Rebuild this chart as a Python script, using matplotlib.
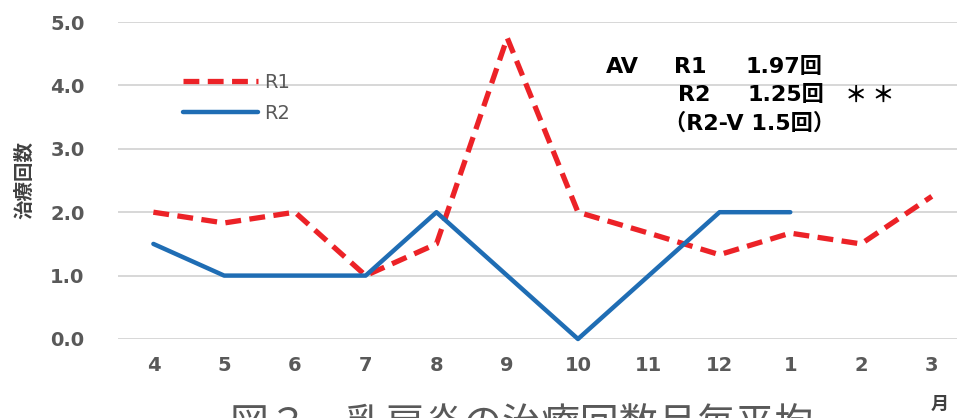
import matplotlib
matplotlib.use("Agg")
import matplotlib.pyplot as plt

plt.rcParams['font.family'] = ['DejaVu Sans', 'Noto Sans CJK JP']

months = ['4', '5', '6', '7', '8', '9', '10', '11', '12', '1', '2', '3']
r1 = [2.0, 1.83, 2.0, 1.0, 1.5, 4.75, 2.0, 1.67, 1.33, 1.67, 1.5, 2.25]
r2 = [1.5, 1.0, 1.0, 1.0, 2.0, 1.0, 0.0, 1.0, 2.0, 2.0]
yticks = [0, 1, 2, 3, 4, 5]

RED = '#ec2227'
BLUE = '#1f6db4'
GREY = '#595959'

fig = plt.figure(figsize=(9.57, 4.18), dpi=100)
ax = fig.add_axes([118 / 957, 79 / 418, 839 / 957, 317 / 418])

x1 = list(range(len(r1)))
x2 = list(range(len(r2)))
ax.plot(x1, r1, color=RED, lw=3.8, linestyle=(0, (3, 1.6)), label='R1',
        clip_on=False, zorder=3)
ax.plot(x2, r2, color=BLUE, lw=3.2, label='R2', clip_on=False, zorder=3,
        solid_capstyle='round')

ax.set_xlim(-0.5, (957 - 153) / 70.8)
ax.set_ylim(0, 5)
ax.set_xticks(x1)
ax.set_xticklabels(months)
ax.set_yticks(yticks)
ax.set_yticklabels([f'{v:.1f}' for v in yticks])
ax.tick_params(length=0, colors=GREY, labelsize=14)
ax.tick_params(axis='x', pad=12)
ax.tick_params(axis='y', pad=24)
for lab in ax.get_xticklabels() + ax.get_yticklabels():
    lab.set_fontweight('bold')
ax.grid(axis='y', color='#d4d4d4', lw=1.3)
ax.set_axisbelow(True)
for s in ax.spines.values():
    s.set_visible(False)

leg = ax.legend(loc='upper left', bbox_to_anchor=(165 / 957, 1 - 55 / 418),
                bbox_transform=fig.transFigure, frameon=False, fontsize=14,
                handlelength=3.9, handletextpad=0.3, labelspacing=0.65,
                labelcolor=GREY)

fig.text(25 / 957, 1 - 180 / 418, '治療回数', rotation=90, ha='center', va='center',
         fontsize=14, color='#404040', fontweight='bold',
         family=['Noto Sans CJK JP'])

note = dict(fontsize=16, fontweight='bold', color='black', ha='left',
            va='center', family=['DejaVu Sans', 'Noto Sans CJK JP'])
fig.text(606 / 957, 1 - 67 / 418, 'AV', **note)
fig.text(674 / 957, 1 - 67 / 418, 'R1', **note)
fig.text(745 / 957, 1 - 67 / 418, '1.97回', **note)
fig.text(678 / 957, 1 - 95 / 418, 'R2', **note)
fig.text(748 / 957, 1 - 95 / 418, '1.25回', **note)
fig.text(845 / 957, 1 - 95 / 418, '＊ ＊', fontsize=16, fontweight='bold',
         color='black', ha='left', va='center', family=['Noto Sans CJK JP'])
fig.text(664 / 957, 1 - 123 / 418, '（R2-V 1.5回）', **note)

fig.text(940 / 957, 1 - 404 / 418, '月', ha='center', va='center', fontsize=13,
         color='#404040', fontweight='bold', family=['Noto Sans CJK JP'])
fig.text(522 / 957, 1 - 426 / 418, '図３　乳房炎の治療回数月毎平均', ha='center',
         va='center', fontsize=28, color=GREY, family=['Noto Sans CJK JP'])

fig.savefig('out.png', dpi=100)
